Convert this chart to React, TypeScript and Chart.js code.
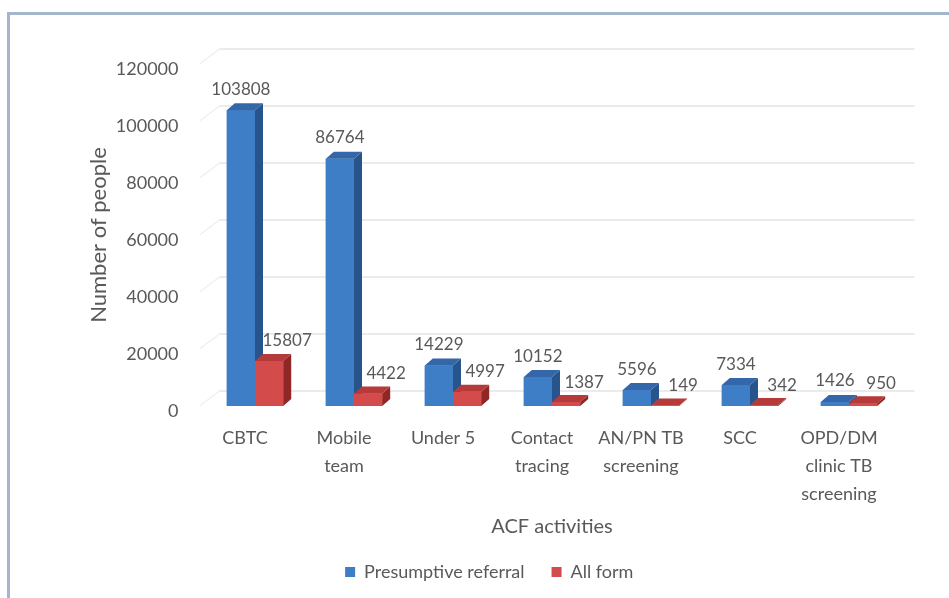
import React, { useEffect, useRef } from 'react';
import { Chart, registerables } from 'chart.js';

Chart.register(...registerables);

const categories: string[][] = [
  ['CBTC'],
  ['Mobile', 'team'],
  ['Under 5'],
  ['Contact', 'tracing'],
  ['AN/PN TB', 'screening'],
  ['SCC'],
  ['OPD/DM', 'clinic TB', 'screening'],
];
const presumptiveReferral = [103808, 86764, 14229, 10152, 5596, 7334, 1426];
const allForm = [15807, 4422, 4997, 1387, 149, 342, 950];
const seriesNames = ['Presumptive referral', 'All form'];
const yAxisTitle = 'Number of people';
const xAxisTitle = 'ACF activities';
const yMin = 0;
const yMax = 120000;
const yStep = 20000;

const FONT = 'Lato, "Open Sans", sans-serif';
const TEXT = '#595959';
const DX = 8;
const DY = 7;
const faces = [
  { front: '#3e7ec7', side: '#28548c', top: '#3467a9' },
  { front: '#d44b4b', side: '#8e2726', top: '#b53a39' },
];
const labelOffsets = [
  { dx: 0, dy: -21 },
  { dx: 18, dy: -20 },
];

const bar3d = {
  id: 'bar3d',
  beforeDraw(chart: any) {
    const ctx = chart.ctx;
    const { left, right } = chart.chartArea;
    const ys = chart.scales.y;
    ctx.save();
    ctx.fillStyle = '#ffffff';
    ctx.fillRect(0, 0, chart.width, chart.height);
    ctx.strokeStyle = '#a3b6cc';
    ctx.lineWidth = 3;
    ctx.beginPath();
    ctx.moveTo(8.5, chart.height + 5);
    ctx.lineTo(8.5, 13.5);
    ctx.lineTo(chart.width + 5, 13.5);
    ctx.stroke();
    ctx.lineWidth = 1.5;
    for (let v = yMin; v <= yMax; v += yStep) {
      const y = ys.getPixelForValue(v);
      ctx.strokeStyle = '#f0f0f0';
      ctx.beginPath();
      ctx.moveTo(left - 6, y);
      ctx.lineTo(left + 14, y - 15);
      ctx.stroke();
      ctx.strokeStyle = '#e4e4e4';
      ctx.beginPath();
      ctx.moveTo(left + 14, y - 15);
      ctx.lineTo(right + 16, y - 15);
      ctx.stroke();
    }
    ctx.restore();
  },
  afterDatasetsDraw(chart: any) {
    const ctx = chart.ctx;
    ctx.save();
    chart.data.datasets.forEach((ds: any, di: number) => {
      const meta = chart.getDatasetMeta(di);
      const f = faces[di];
      meta.data.forEach((el: any) => {
        const { x, y, base, width } = el.getProps(['x', 'y', 'base', 'width'], true);
        const l = x - width / 2;
        const r = x + width / 2;
        ctx.fillStyle = f.front;
        ctx.fillRect(l, y, width, base - y);
        ctx.fillStyle = f.side;
        ctx.beginPath();
        ctx.moveTo(r, y);
        ctx.lineTo(r + DX, y - DY);
        ctx.lineTo(r + DX, base - DY);
        ctx.lineTo(r, base);
        ctx.closePath();
        ctx.fill();
        ctx.fillStyle = f.top;
        ctx.beginPath();
        ctx.moveTo(l, y);
        ctx.lineTo(l + DX, y - DY);
        ctx.lineTo(r + DX, y - DY);
        ctx.lineTo(r, y);
        ctx.closePath();
        ctx.fill();
      });
    });
    ctx.font = `17px ${FONT}`;
    ctx.fillStyle = TEXT;
    ctx.textAlign = 'center';
    ctx.textBaseline = 'middle';
    chart.data.datasets.forEach((ds: any, di: number) => {
      const meta = chart.getDatasetMeta(di);
      const o = labelOffsets[di];
      meta.data.forEach((el: any, i: number) => {
        const { x, y } = el.getProps(['x', 'y'], true);
        ctx.fillText(String(ds.data[i]), x + o.dx, y + o.dy);
      });
    });
    ctx.restore();
  },
};

export default function App() {
  const ref = useRef<HTMLCanvasElement | null>(null);
  useEffect(() => {
    if (!ref.current) return;
    const chart = new Chart(ref.current, {
      type: 'bar',
      data: {
        labels: categories,
        datasets: [
          {
            label: seriesNames[0],
            data: presumptiveReferral,
            backgroundColor: faces[0].front,
            categoryPercentage: 0.57,
            barPercentage: 1.0,
          },
          {
            label: seriesNames[1],
            data: allForm,
            backgroundColor: faces[1].front,
            categoryPercentage: 0.57,
            barPercentage: 1.0,
          },
        ],
      },
      options: {
        responsive: false,
        animation: false,
        devicePixelRatio: 1,
        layout: { padding: { left: 80, top: 64, right: 50.5, bottom: 7 } },
        plugins: {
          tooltip: { enabled: false },
          legend: {
            position: 'bottom',
            labels: {
              boxWidth: 10,
              boxHeight: 10,
              padding: 27,
              color: TEXT,
              font: { family: FONT, size: 18 },
            },
          },
        },
        scales: {
          x: {
            grid: { display: false, drawTicks: false },
            border: { display: false },
            ticks: {
              color: TEXT,
              font: { family: FONT, size: 18, lineHeight: 1.55 },
              padding: 18,
              labelOffset: -10,
              maxRotation: 0,
              autoSkip: false,
            },
            title: {
              display: true,
              text: xAxisTitle,
              color: TEXT,
              font: { family: FONT, size: 20 },
              padding: { top: 0, bottom: -3 },
            },
            afterFit(scale: any) {
              scale.height = 130;
            },
          },
          y: {
            min: yMin,
            max: yMax,
            grid: { display: false, drawTicks: false },
            border: { display: false },
            ticks: {
              stepSize: yStep,
              color: TEXT,
              font: { family: FONT, size: 18 },
              padding: 27,
              labelOffset: 5,
              callback: (v: any) => String(v),
            },
            title: {
              display: true,
              text: yAxisTitle,
              color: TEXT,
              font: { family: FONT, size: 22 },
              padding: { top: 6, bottom: 0 },
            },
            afterFit(scale: any) {
              scale.width = 125.5;
            },
          },
        },
      },
      plugins: [bar3d],
    } as any);
    return () => chart.destroy();
  }, []);
  return (
    <div style={{ position: 'absolute', left: 0, top: 0, width: 949, height: 598, overflow: 'hidden', background: '#fff' }}>
      <canvas ref={ref} width={949} height={598} style={{ display: 'block' }} />
    </div>
  );
}
